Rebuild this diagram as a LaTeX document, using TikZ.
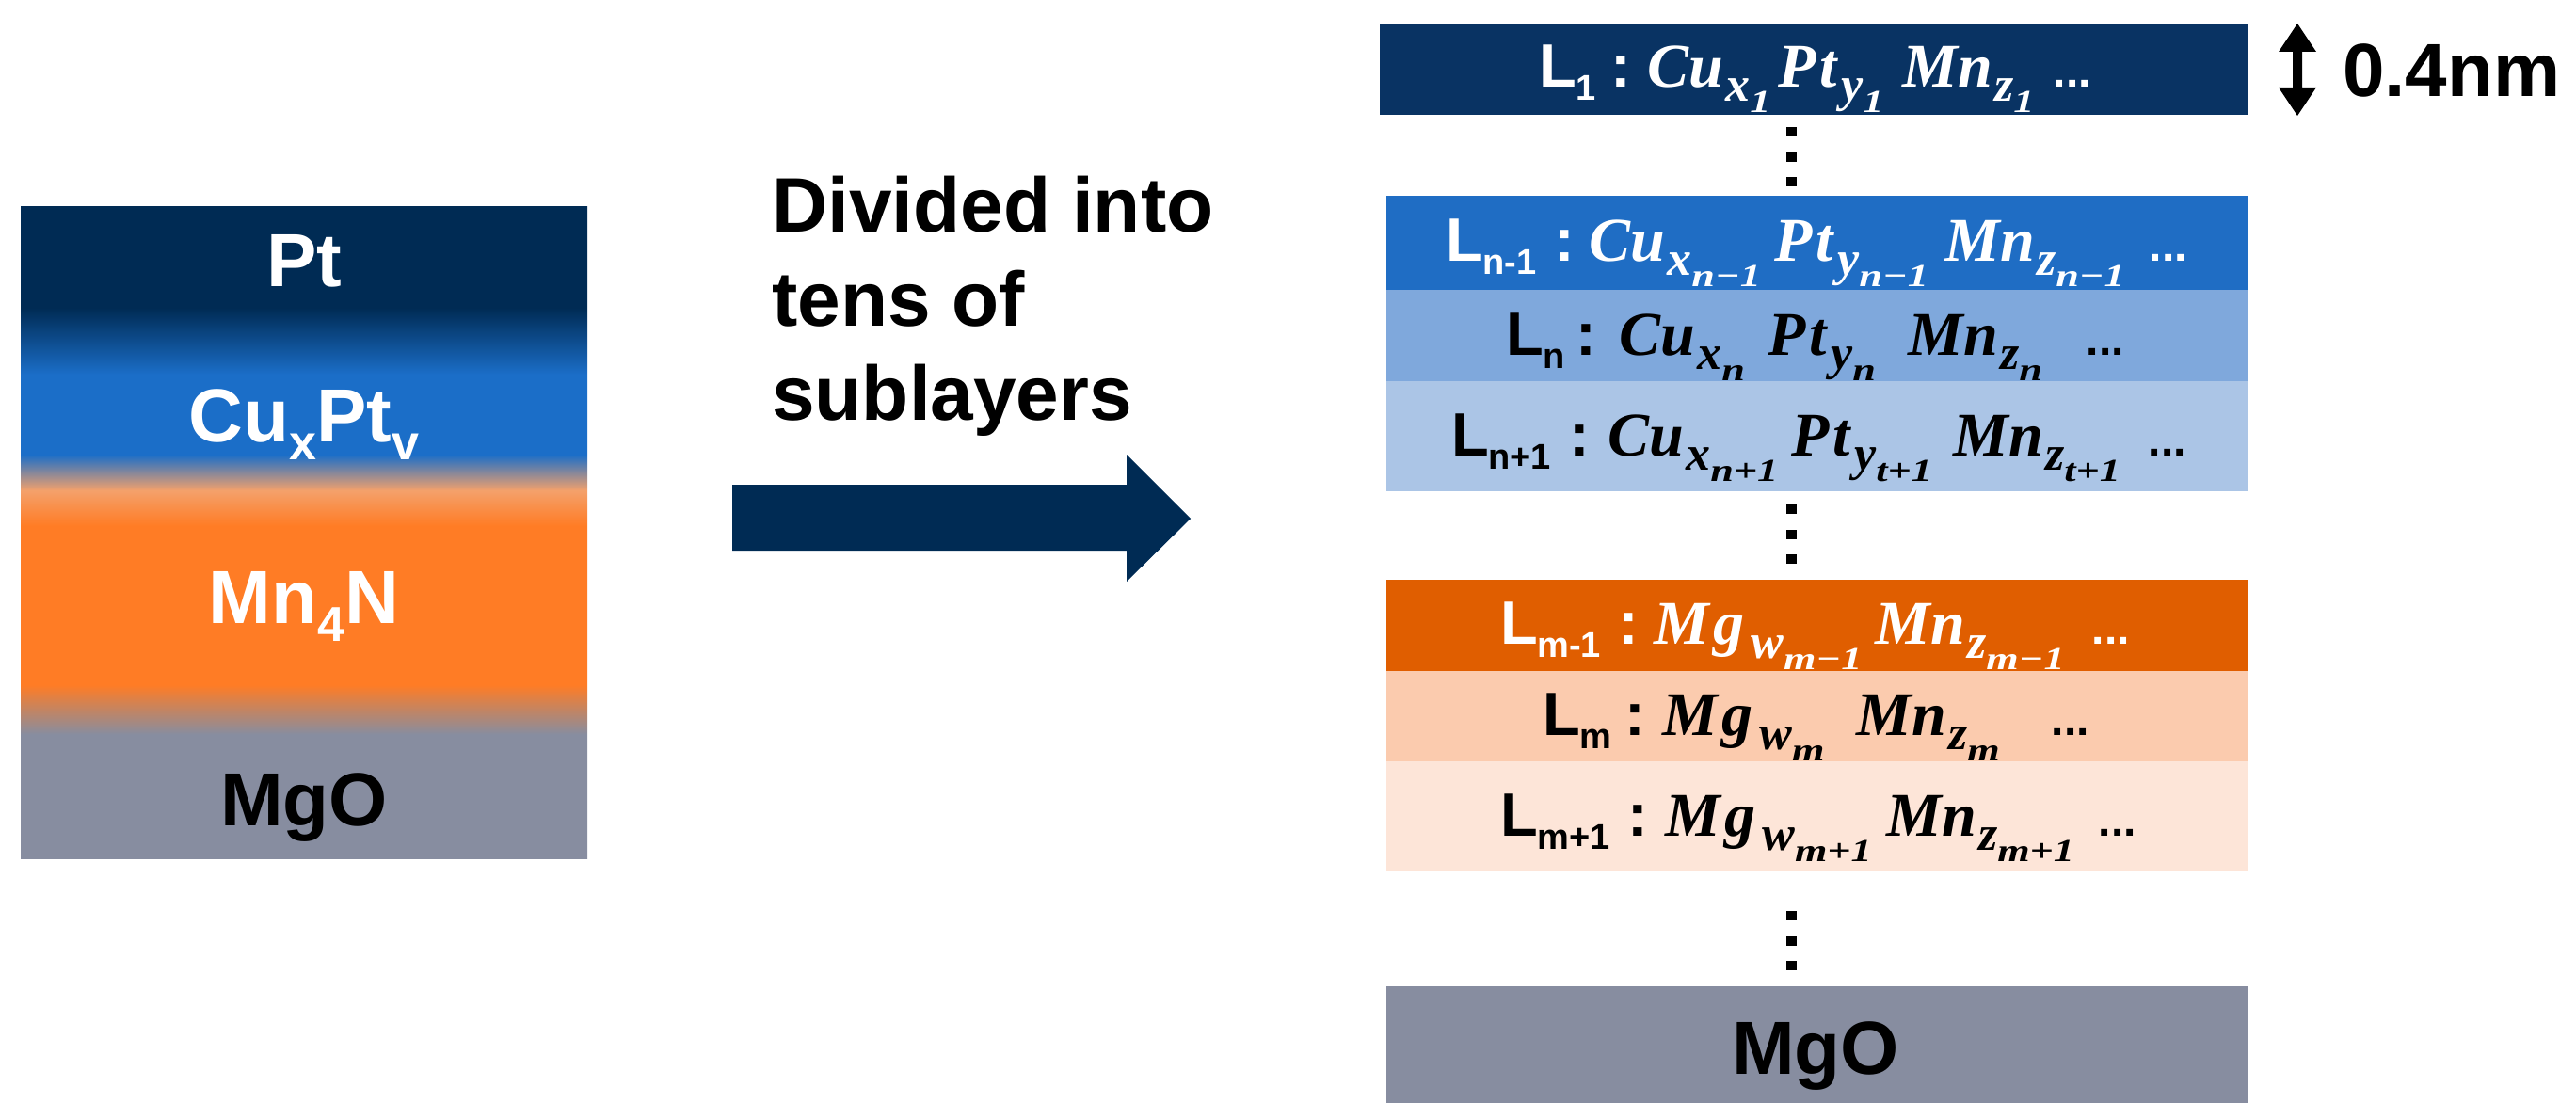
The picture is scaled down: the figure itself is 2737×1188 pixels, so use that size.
\documentclass[tikz,border=0pt]{standalone}
\usepackage{fontspec}
\setmainfont{Liberation Sans}
\newfontfamily\mathserif{Liberation Serif}
\newfontfamily\mathsmall{Liberation Serif}[FakeStretch=1.3]
\newcommand{\sz}[1]{\fontsize{#1}{#1}\selectfont}
\newcommand{\mtxt}[2]{{\sz{#1}\mathserif\bfseries\itshape #2}}
\newcommand{\stxt}[1]{{\sz{34}\mathsmall\bfseries\itshape #1}}
% main symbol, index, index of the index
\newcommand{\term}[3]{\mtxt{66}{#1}\hskip2pt\raisebox{-15pt}{\mtxt{52}{#2}\hskip0pt\raisebox{-12pt}{\stxt{#3}}}}
\newcommand{\plc}[2]{\rlap{\hskip#1pt\relax #2}}
% start of row: L with index, colon at offset
\newcommand{\Lab}[2]{\plc{0}{{\sz{65}\bfseries L}\raisebox{-14pt}{\sz{38}\bfseries\hskip-1pt #1}}\plc{#2}{{\sz{65}\bfseries :}}}
\newcommand{\dotsat}[1]{\plc{#1}{\raisebox{0pt}{\sz{48}\bfseries ...}}}
\newcommand{\Pt}{P\kern3pt t\kern3pt}
\newcommand{\Mg}{M\kern4pt g\kern5pt}
\definecolor{navy}{RGB}{0,43,84}
\definecolor{stackblue}{RGB}{27,110,200}
\definecolor{stackpeach}{RGB}{244,161,107}
\definecolor{stackorange}{RGB}{255,124,37}
\definecolor{layA}{RGB}{9,51,99}
\definecolor{layB}{RGB}{31,109,196}
\definecolor{layC}{RGB}{127,168,220}
\definecolor{layD}{RGB}{171,197,230}
\definecolor{layE}{RGB}{224,94,0}
\definecolor{layF}{RGB}{251,203,174}
\definecolor{layG}{RGB}{253,229,216}
\definecolor{layH}{RGB}{135,141,160}
\pgfdeclareverticalshading{stackshade}{100bp}{
 color(0bp)=(layH);
 color(25bp)=(layH);
 color(34.5bp)=(layH);
 color(38.3bp)=(stackorange);
 color(50.5bp)=(stackorange);
 color(53.2bp)=(stackpeach);
 color(55.95bp)=(stackblue);
 color(62.1bp)=(stackblue);
 color(67.2bp)=(navy);
 color(75bp)=(navy);
 color(100bp)=(navy)}
\tikzset{
 big/.style={font=\sz{80}\bfseries,inner sep=0pt,anchor=base},
 caption/.style={font=\sz{82}\bfseries,inner sep=0pt,anchor=base west},
 rowtxt/.style={inner sep=0pt,anchor=base west},
 vdot/.style={fill=black},
}
\begin{document}
\begin{tikzpicture}[x=1pt,y=-1pt]
\useasboundingbox (0,0) rectangle (2737,1188);
% left stack
\path[shading=stackshade] (22,219) rectangle (624,912);
\node[big,text=white] (lpt) at (323,304) {Pt};
\node[big,text=white] (lcu) at (323,469) {Cu\raisebox{-19pt}{\sz{52}\bfseries x}Pt\raisebox{-19pt}{\sz{52}\bfseries v}};
\node[big,text=white] (lmn) at (323,662) {Mn\raisebox{-19pt}{\sz{52}\bfseries 4}N};
\node[big,text=black] (lmg) at (323,877) {MgO};
% caption and arrow
\node[caption] (c1) at (820,246) {Divided into};
\node[caption] (c2) at (820,346) {tens of};
\node[caption] (c3) at (820,446) {sublayers};
\fill[navy] (778,515) -- (1197,515) -- (1197,483) -- (1265,551) -- (1197,618) -- (1197,585) -- (778,585) -- cycle;
% layers
\fill[layA] (1466,25) rectangle (2388,122);
\fill[layB] (1473,208) rectangle (2388,308.5);
\fill[layC] (1473,308) rectangle (2388,405.5);
\fill[layD] (1473,405) rectangle (2388,522);
\fill[layE] (1473,616) rectangle (2388,713);
\fill[layF] (1473,712.5) rectangle (2388,809.5);
\fill[layG] (1473,809) rectangle (2388,926);
\fill[layH] (1473,1048) rectangle (2388,1172);
% vertical dots
\foreach \yy in {140,167,193,541,568,594,973,1000,1026}
  \fill[vdot] (1898,\yy-5) rectangle (1909,\yy+5);
% height marker
\fill[black] (2441,25) -- (2461,55) -- (2446,55) -- (2446,93) -- (2461,93) -- (2441,123) -- (2421,93) -- (2436,93) -- (2436,55) -- (2421,55) -- cycle;
\node[big,anchor=base west] (thick) at (2489,103) {0.4nm};
% rows
\node[rowtxt,text=white] (r1) at (1635,93) {\Lab{1}{76}\plc{115}{\term{Cu}{x}{1}}\plc{254}{\term{\Pt}{y}{1}}\plc{386}{\term{Mn}{z}{1}}\dotsat{546}};
\node[rowtxt,text=white] (r2) at (1536,277) {\Lab{n-1}{115}\plc{152}{\term{Cu}{x}{n−1}}\plc{349}{\term{\Pt}{y}{n−1}}\plc{530}{\term{Mn}{z}{n−1}}\dotsat{747}};
\node[rowtxt,text=black] (r3) at (1600,377) {\Lab{n}{74}\plc{120}{\term{Cu}{x}{n}}\plc{278}{\term{\Pt}{y}{n}}\plc{427}{\term{Mn}{z}{n}}\dotsat{616}};
\node[rowtxt,text=black] (r4) at (1542,484) {\Lab{n+1}{125}\plc{166}{\term{Cu}{x}{n+1}}\plc{361}{\term{\Pt}{y}{t+1}}\plc{533}{\term{Mn}{z}{t+1}}\dotsat{740}};
\node[rowtxt,text=white] (r5) at (1594,684) {\Lab{m-1}{125}\plc{163}{\term{\Mg}{w}{m−1}}\plc{398}{\term{Mn}{z}{m−1}}\dotsat{628}};
\node[rowtxt,text=black] (r6) at (1639,781) {\Lab{m}{87}\plc{127}{\term{\Mg}{w}{m}}\plc{333}{\term{Mn}{z}{m}}\dotsat{540}};
\node[rowtxt,text=black] (r7) at (1594,888) {\Lab{m+1}{135}\plc{175}{\term{\Mg}{w}{m+1}}\plc{410}{\term{Mn}{z}{m+1}}\dotsat{635}};
\node[big,text=black] (rmg) at (1929,1141) {MgO};
\end{tikzpicture}
\end{document}
